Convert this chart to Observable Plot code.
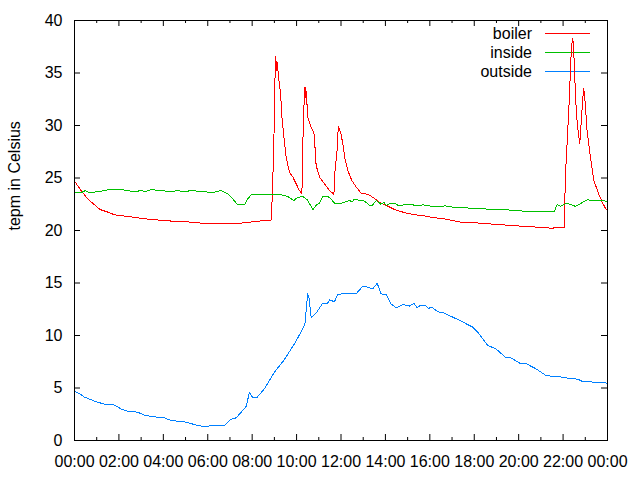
<!DOCTYPE html>
<html>
<head>
<meta charset="utf-8">
<script src="https://cdn.jsdelivr.net/npm/d3@7"></script>
<script src="https://cdn.jsdelivr.net/npm/@observablehq/plot@0.6"></script>
<style>
  html, body { margin: 0; padding: 0; background: #fff; }
</style>
</head>
<body>
<div id="chart"></div>
<script>
// ---- data (hours of day, temperature in °C) ----
const seriesNames = ["boiler", "inside", "outside"];
const seriesColors = ["#ff0000", "#00c000", "#0080ff"];
const yLabel = "tepm in Celsius";

const boilerT = [0, 0.3, 0.6, 0.9, 1.15, 1.5, 1.8, 2.25, 2.7, 3.45, 4.35, 5.25, 5.7, 7.5, 8.1, 8.55, 8.85,
  8.9, 8.96, 9.0, 9.03, 9.06, 9.1, 9.13, 9.19, 9.28, 9.34, 9.43, 9.53, 9.68, 9.83, 9.98, 10.13, 10.24,
  10.28, 10.33, 10.38, 10.41, 10.44, 10.5, 10.66, 10.78, 10.84, 10.88, 11.03, 11.26, 11.48, 11.68,
  11.73, 11.82, 11.88, 11.93, 12.0, 12.08, 12.19, 12.31, 12.49, 12.68, 12.91, 13.21, 13.44, 13.73,
  14.03, 14.41, 14.86, 15.3, 15.75, 16.21, 16.48, 17.38, 18.28, 19.18, 20.23, 20.98, 21.5, 21.55,
  21.6, 22.06, 22.1, 22.18, 22.26, 22.33, 22.38, 22.44, 22.48, 22.52, 22.6, 22.66, 22.75, 22.83,
  22.89, 22.93, 23.0, 23.08, 23.23, 23.38, 23.6, 23.76, 23.91, 24.0];
const boilerV = [24.7, 23.8, 23.0, 22.45, 22.0, 21.75, 21.5, 21.37, 21.25, 21.05, 20.9, 20.8, 20.7, 20.7, 20.85, 20.95, 21.0,
  23.0, 27.0, 30.8, 34.6, 36.6, 35.2, 36.0, 34.6, 33.0, 30.8, 28.9, 27.0, 25.55, 25.1, 24.45, 23.8, 23.5,
  28.25, 31.75, 33.65, 32.7, 33.2, 30.8, 29.8, 29.35, 27.6, 26.2, 25.1, 24.45, 23.8, 23.45,
  25.7, 27.6, 29.9, 29.6, 29.2, 28.25, 26.7, 25.7, 24.75, 24.15, 23.55, 23.45, 23.15, 22.7,
  22.4, 22.0, 21.7, 21.5, 21.4, 21.2, 21.17, 20.8, 20.7, 20.55, 20.4, 20.3, 20.22, 20.14,
  20.3, 20.3, 25.1, 28.25, 31.6, 35.2, 37.6, 38.3, 37.1, 34.9, 31.1, 29.8, 28.25, 30.8,
  32.7, 33.5, 32.1, 29.5, 27.0, 24.8, 23.5, 22.7, 22.1, 21.9];

const insideT = [0, 0.3, 0.48, 0.68, 1.05, 1.35, 1.58, 2.1, 2.4, 2.7, 3.0, 3.2, 3.45, 3.9, 4.35, 4.65, 4.95,
  5.25, 5.85, 6.15, 6.4, 6.6, 6.9, 7.13, 7.35, 7.65, 7.8, 7.95, 9.3, 9.6, 9.87, 10.05, 10.28, 10.5,
  10.62, 10.74, 10.88, 11.03, 11.18, 11.4, 11.55, 11.73, 12.0, 12.23, 12.4, 12.5, 12.6, 12.85, 13.06,
  13.28, 13.4, 13.6, 13.8, 13.93, 14.03, 14.26, 14.45, 14.6, 14.86, 15.2, 15.5, 15.7, 15.96, 16.33,
  16.7, 17.08, 17.83, 18.28, 18.58, 19.18, 19.63, 20.08, 20.23, 21.6, 21.73, 21.88, 22.18, 22.56,
  23.08, 23.4, 23.68, 23.91, 24.0];
const insideV = [23.6, 23.6, 23.8, 23.6, 23.7, 23.8, 23.9, 23.9, 23.8, 23.7, 23.8, 23.7, 23.9, 23.8, 23.7, 23.8, 23.7,
  23.8, 23.7, 23.6, 23.7, 23.8, 23.5, 23.0, 22.45, 22.45, 23.0, 23.4, 23.4, 23.25, 22.85, 23.15, 23.25, 22.9,
  22.4, 22.0, 22.4, 22.6, 23.25, 23.25, 23.0, 22.55, 22.6, 22.75, 22.85, 22.7, 23.0, 22.85, 22.8,
  22.4, 22.4, 22.85, 22.5, 22.7, 22.4, 22.6, 22.55, 22.35, 22.45, 22.45, 22.35, 22.45, 22.35, 22.25,
  22.35, 22.2, 22.13, 22.13, 22.03, 22.03, 21.94, 21.94, 21.78, 21.78, 22.48, 22.3, 22.6, 22.3,
  22.92, 22.86, 22.86, 22.8, 22.8];

const outsideT = [0, 0.23, 0.45, 0.9, 1.13, 1.35, 1.6, 1.8, 2.1, 2.4, 2.85, 3.15, 3.6, 4.05, 4.35, 4.95, 5.4,
  5.78, 6.15, 6.73, 7.05, 7.28, 7.73, 7.88, 8.03, 8.22, 8.55, 9.0, 9.45, 9.9, 10.28, 10.38, 10.5, 10.56,
  10.66, 10.9, 11.18, 11.4, 11.5, 11.7, 11.85, 12.15, 12.68, 12.98, 13.2, 13.43, 13.63, 13.8, 14.03,
  14.26, 14.48, 14.78, 15.08, 15.28, 15.43, 15.6, 15.83, 15.93, 16.08, 16.36, 16.58, 17.26, 17.93,
  18.16, 18.61, 18.98, 19.43, 19.66, 20.1, 20.35, 20.78, 21.23, 21.6, 21.98, 22.2, 22.66, 22.88,
  23.4, 23.9, 24.0];
const outsideV = [4.67, 4.45, 4.13, 3.75, 3.6, 3.45, 3.45, 3.37, 3.0, 2.77, 2.7, 2.4, 2.25, 2.16, 1.9, 1.78, 1.52,
  1.33, 1.4, 1.4, 2.03, 2.16, 3.24, 4.6, 4.05, 4.1, 4.92, 6.5, 7.7, 9.2, 10.63, 11.2, 13.97, 13.6,
  11.68, 12.2, 13.08, 13.08, 13.4, 13.2, 13.87, 14.03, 13.97, 14.7, 14.6, 14.44, 14.98, 13.97, 13.9,
  13.0, 12.63, 12.95, 12.8, 13.06, 12.63, 12.9, 12.8, 12.57, 12.7, 12.25, 12.2, 11.52, 10.8,
  10.3, 9.05, 8.73, 7.87, 7.87, 7.3, 7.3, 6.83, 6.19, 6.1, 6.03, 5.94, 5.84, 5.62,
  5.56, 5.5, 5.45];

const xMajorTicks = [0, 2, 4, 6, 8, 10, 12, 14, 16, 18, 20, 22, 24];
const xMinorTicks = [1, 3, 5, 7, 9, 11, 13, 15, 17, 19, 21, 23];
const yTicks = [0, 5, 10, 15, 20, 25, 30, 35, 40];

// ---- build table ----
const toRows = (name, T, V) => T.map((t, i) => ({series: name, hour: t, temp: V[i]}));
const rows = [
  ...toRows("boiler", boilerT, boilerV),
  ...toRows("inside", insideT, insideV),
  ...toRows("outside", outsideT, outsideV)
];

const W = 640, H = 480;
const mL = 74, mR = 33, mT = 20, mB = 40;
const frameW = W - mL - mR, frameH = H - mT - mB;
const majorLen = 6, minorLen = 3;

const fmtHour = h => String(h % 24).padStart(2, "0") + ":00";

// legend drawn inside the frame (top-right), before the data lines
function legend(index, scales, values, dims) {
  const g = d3.create("svg:g")
    .attr("font-family", "'Liberation Sans', Arial, sans-serif")
    .attr("font-size", 16);
  const right = dims.width - dims.marginRight;
  seriesNames.forEach((name, i) => {
    const y = dims.marginTop + 13 + i * 19;
    g.append("text")
      .attr("x", right - 75).attr("y", y)
      .attr("dy", "0.35em")
      .attr("text-anchor", "end")
      .attr("fill", "black")
      .text(name);
    g.append("line")
      .attr("x1", right - 62).attr("x2", right - 17)
      .attr("y1", y + 0.5).attr("y2", y + 0.5)
      .attr("stroke", seriesColors[i])
      .attr("stroke-width", 1);
  });
  return g.node();
}

const chart = Plot.plot({
  width: W, height: H,
  marginLeft: mL, marginRight: mR, marginTop: mT, marginBottom: mB,
  style: {fontFamily: "'Liberation Sans', Arial, sans-serif", fontSize: "16px", background: "white", color: "black"},
  x: {type: "linear", domain: [0, 24]},
  y: {type: "linear", domain: [0, 40]},
  color: {domain: seriesNames, range: seriesColors},
  marks: [
    Plot.axisX(xMajorTicks, {tickSize: 0, tickPadding: 15, tickFormat: fmtHour, label: null}),
    Plot.axisY(yTicks, {tickSize: 0, tickPadding: 12, label: null}),
    Plot.text([yLabel], {text: d => d, frameAnchor: "left", rotate: -90, dx: -60, fontSize: 16, fill: "black"}),
    // inward ticks, mirrored on all four sides
    Plot.tickX(xMajorTicks, {x: d => d, insetTop: frameH - majorLen, stroke: "black"}),
    Plot.tickX(xMinorTicks, {x: d => d, insetTop: frameH - minorLen, stroke: "black"}),
    Plot.tickX(xMajorTicks, {x: d => d, insetBottom: frameH - majorLen, stroke: "black"}),
    Plot.tickX(xMinorTicks, {x: d => d, insetBottom: frameH - minorLen, stroke: "black"}),
    Plot.tickY(yTicks, {y: d => d, insetRight: frameW - majorLen, stroke: "black"}),
    Plot.tickY(yTicks, {y: d => d, insetLeft: frameW - majorLen, stroke: "black"}),
    legend,
    Plot.line(rows, {x: "hour", y: "temp", z: "series", stroke: "series", strokeWidth: 1, shapeRendering: "crispEdges"}),
    Plot.frame({stroke: "black", strokeWidth: 1})
  ]
});

document.getElementById("chart").appendChild(chart);
</script>
</body>
</html>
